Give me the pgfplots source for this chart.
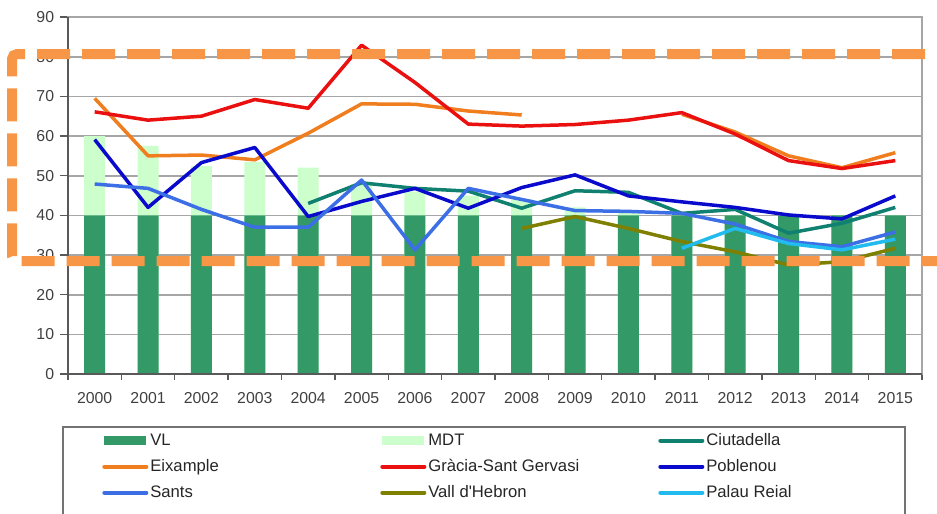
\documentclass[border=0pt]{standalone}
\usepackage{fontspec}
\setmainfont{Liberation Sans}
\usepackage{pgfplots}
\usepackage{pgfplotstable}
\pgfplotsset{compat=1.18}

\definecolor{vl}{HTML}{339966}
\definecolor{mdt}{HTML}{CCFFCC}
\definecolor{ciu}{HTML}{108070}
\definecolor{eix}{HTML}{F07D1E}
\definecolor{gra}{HTML}{EA1010}
\definecolor{pob}{HTML}{0A0ACC}
\definecolor{san}{HTML}{3C6EE6}
\definecolor{val}{HTML}{808000}
\definecolor{pal}{HTML}{22BBEE}
\definecolor{hilite}{HTML}{F79646}
\definecolor{gridc}{HTML}{A6A6A6}

\pgfplotsset{
  barleg/.style={legend image code/.code={\fill[##1,draw=none] (0pt,-2.8pt) rectangle (25.2pt,2.8pt);}},
  lineleg/.style={legend image code/.code={\draw[##1,line width=2.4pt,line cap=round] (0pt,0pt) -- (25.2pt,0pt);}},
  serie/.style={line width=2.1pt, line join=round, mark=none, forget plot},
}

% x = year index (0 = 2000)
\pgfplotstableread{
x  VL MDT  Ciu  Eix  Gra  Pob  San  Val  Pal
0  40 60   nan  69.5 66.1 59.1 47.9 nan  nan
1  40 57.5 nan  55.0 64.0 42.0 46.8 nan  nan
2  40 52.5 nan  55.2 65.0 53.3 41.5 nan  nan
3  40 53.5 nan  54.0 69.2 57.1 37.0 nan  nan
4  40 52   43.0 60.7 67.0 39.7 37.0 nan  nan
5  40 48   48.2 68.1 82.9 43.5 48.9 nan  nan
6  40 46   46.8 68.0 73.5 46.8 31.3 nan  nan
7  40 45   46.1 66.3 63.0 41.8 46.8 nan  nan
8  40 44   41.8 65.3 62.5 47.0 44.0 36.7 nan
9  40 42   46.2 nan  62.9 50.2 41.2 39.7 nan
10 40 41   45.8 nan  64.0 44.9 41.0 36.7 nan
11 40 40   40.5 65.5 65.9 43.4 40.5 33.4 31.7
12 40 40   41.5 61.0 60.5 42.0 37.8 30.8 36.7
13 40 40   35.5 55.0 53.8 40.1 33.4 27.5 32.9
14 40 40   38.0 52.0 51.8 39.1 32.1 28.3 31.3
15 40 40   42.0 55.8 53.8 44.9 35.8 31.7 34.0
}\datatable

\begin{document}
\begin{tikzpicture}
\begin{axis}[
    scale only axis,
    width=512.4pt, height=214.2pt,
    xmin=-0.5, xmax=15.5, ymin=0, ymax=90,
    clip=false,
    unbounded coords=jump,
    axis line style={gridc, line width=1pt},
    xtick pos=bottom, ytick pos=left,
    xtick={0,...,15},
    xticklabels={2000,2001,2002,2003,2004,2005,2006,2007,2008,2009,2010,2011,2012,2013,2014,2015},
    minor xtick={-0.5,0.5,...,15.5},
    ytick={0,10,...,90},
    tick align=outside,
    major tick length=4.8pt, minor tick length=3.6pt,
    tick style={black!65, line width=0.8pt},
    major x tick style={draw=none},
    ymajorgrids,
    grid style={gridc, line width=1pt},
    /pgf/number format/assume math mode=true,
    tick label style={font=\fontsize{9.5}{11}\selectfont, text=black!75},
    xticklabel style={yshift=-2.5pt},
    legend columns=3,
    legend cell align=left,
    legend style={
        at={(-0.00585,-0.1485)}, anchor=north west,
        draw=none, fill=none,
        inner xsep=23.4pt, inner ysep=3.3pt,
        font=\fontsize{10}{12}\selectfont,
        text=black!85,
        /tikz/column sep=0pt,
        /tikz/every odd column/.append style={column sep=1.2pt},
        /tikz/row sep=6.1pt,
        nodes={inner sep=0pt, text height=7.5pt, text depth=2pt},
    },
]
\addlegendimage{barleg, fill=vl}
\addlegendentry{\makebox[138pt][l]{VL}}
\addlegendimage{barleg, fill=mdt}
\addlegendentry{\makebox[138pt][l]{MDT}}
\addlegendimage{lineleg, draw=ciu}
\addlegendentry{\makebox[95pt][l]{Ciutadella}}
\addlegendimage{lineleg, draw=eix}
\addlegendentry{\makebox[138pt][l]{Eixample}}
\addlegendimage{lineleg, draw=gra}
\addlegendentry{\makebox[138pt][l]{Gràcia-Sant Gervasi}}
\addlegendimage{lineleg, draw=pob}
\addlegendentry{\makebox[95pt][l]{Poblenou}}
\addlegendimage{lineleg, draw=san}
\addlegendentry{\makebox[138pt][l]{Sants}}
\addlegendimage{lineleg, draw=val}
\addlegendentry{\makebox[138pt][l]{Vall d\textquotesingle Hebron}}
\addlegendimage{lineleg, draw=pal}
\addlegendentry{\makebox[95pt][l]{Palau Reial}}

% bars: MDT behind VL at the same position
\addplot[ybar, bar width=12.6pt, bar shift=0pt, fill=mdt, draw=none, forget plot] table[x=x, y=MDT] {\datatable};
\addplot[ybar, bar width=12.6pt, bar shift=0pt, fill=vl, draw=none, forget plot] table[x=x, y=VL] {\datatable};

\addplot[ciu, serie] table[x=x, y=Ciu] {\datatable};
\addplot[eix, serie] table[x=x, y=Eix] {\datatable};
\addplot[gra, serie] table[x=x, y=Gra] {\datatable};
\addplot[pob, serie] table[x=x, y=Pob] {\datatable};
\addplot[san, serie] table[x=x, y=San] {\datatable};
\addplot[val, serie] table[x=x, y=Val] {\datatable};
\addplot[pal, serie] table[x=x, y=Pal] {\datatable};

% left and bottom axis lines
\draw[black!65, line width=0.9pt] (rel axis cs:0,1) -- (rel axis cs:0,0) -- (rel axis cs:1,0);

% legend frame (bottom edge falls below the picture)
\draw[black!55, line width=0.8pt] (rel axis cs:-0.00585,-0.45) -- (rel axis cs:-0.00585,-0.1485)
    -- (rel axis cs:0.980,-0.1485) -- (rel axis cs:0.980,-0.45);

% highlight frame
\draw[hilite, line width=6pt, dash pattern=on 19.8pt off 7.2pt, rounded corners=3pt]
    (axis cs:16.4,80.67) -- (axis cs:-1.549,80.67) -- (axis cs:-1.549,28.49) -- (axis cs:16.4,28.49);

\coordinate (bbsw) at (axis cs:-1.774,-35.29);
\coordinate (bbne) at (axis cs:15.781,94.29);
\end{axis}
\pgfresetboundingbox
\useasboundingbox (bbsw) rectangle (bbne);
\end{tikzpicture}
\end{document}
